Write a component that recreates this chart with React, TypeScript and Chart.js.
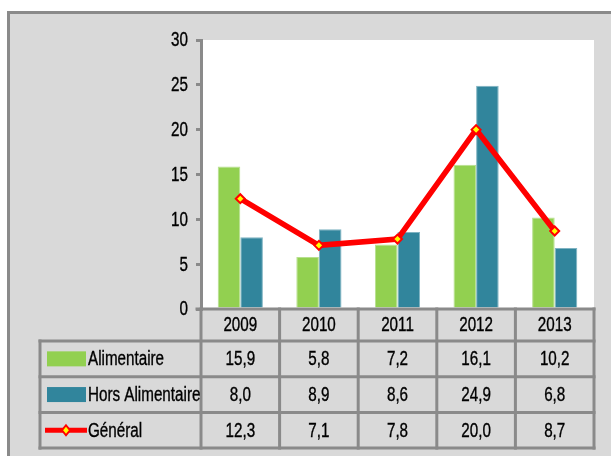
import React, { useEffect, useRef } from "react";
import { Chart, registerables } from "chart.js";

Chart.register(...registerables);

const categories = ["2009", "2010", "2011", "2012", "2013"];
const alimentaire = [15.9, 5.8, 7.2, 16.1, 10.2];
const horsAlimentaire = [8.0, 8.9, 8.6, 24.9, 6.8];
const general = [12.3, 7.1, 7.8, 20.0, 8.7];
const seriesNames = ["Alimentaire", "Hors Alimentaire", "Général"];
const yTicks = { min: 0, max: 30, step: 5 };

const FONT = "'Liberation Sans', Arial, sans-serif";
const FSIZE = 19.5;
const SX = 0.78;
const GREEN = "#92d050";
const BLUE = "#31859c";
const RED = "#ff0000";
const GRID = "#8a8a8a";
const BG = "#d9d9d9";

const fmt = (v: number) => v.toFixed(1).replace(".", ",");

function narrowText(ctx: CanvasRenderingContext2D, text: string, x: number, y: number, align: CanvasTextAlign) {
  ctx.save();
  ctx.translate(x, y);
  ctx.scale(SX, 1);
  ctx.font = `${FSIZE}px ${FONT}`;
  ctx.textAlign = align;
  ctx.textBaseline = "middle";
  ctx.fillStyle = "#000000";
  ctx.fillText(text, 0, 0);
  ctx.strokeStyle = "#000000";
  ctx.lineWidth = 0.35;
  ctx.strokeText(text, 0, 0);
  ctx.restore();
}

const framePlugin = {
  id: "frame",
  beforeDraw(chart: any) {
    const { ctx, chartArea } = chart;
    ctx.save();
    ctx.fillStyle = "#ffffff";
    ctx.fillRect(0, 0, chart.width, chart.height);
    ctx.fillStyle = BG;
    ctx.fillRect(7, 11, chart.width + 20, chart.height + 20);
    ctx.strokeStyle = GRID;
    ctx.lineWidth = 3;
    ctx.strokeRect(8.5, 12.5, chart.width + 20, chart.height + 20);
    ctx.fillStyle = "#ffffff";
    ctx.fillRect(chartArea.left + 2, chartArea.top, chartArea.right - chartArea.left - 2, chartArea.bottom - chartArea.top);
    ctx.restore();
  },
};

const tablePlugin = {
  id: "dataTable",
  afterDraw(chart: any) {
    const { ctx, chartArea } = chart;
    const xScale = chart.scales.x;
    const yScale = chart.scales.y;
    const n = categories.length;
    const catW = (chartArea.right - chartArea.left) / n;
    const top = chartArea.bottom;
    const hdrBottom = top + 32;
    const rowH = 35.7;
    const rows = [hdrBottom, hdrBottom + rowH, hdrBottom + 2 * rowH, hdrBottom + 3 * rowH];
    const legLeft = 40;
    ctx.save();
    yScale.ticks.forEach((t: any) => {
      const y = yScale.getPixelForValue(t.value);
      narrowText(ctx, String(t.value), 188, y + 1, "right");
    });
    ctx.strokeStyle = GRID;
    ctx.lineWidth = 3;
    ctx.lineCap = "square";
    ctx.beginPath();
    ctx.moveTo(chartArea.left - 4, top);
    ctx.lineTo(chartArea.right, top);
    ctx.stroke();
    for (let k = 0; k <= n; k++) {
      const x = chartArea.left + k * catW;
      ctx.beginPath();
      ctx.moveTo(x, top);
      ctx.lineTo(x, rows[3]);
      ctx.stroke();
    }
    ctx.beginPath();
    ctx.moveTo(legLeft, rows[0]);
    ctx.lineTo(legLeft, rows[3]);
    ctx.stroke();
    for (const y of rows) {
      ctx.beginPath();
      ctx.moveTo(legLeft, y);
      ctx.lineTo(chartArea.right, y);
      ctx.stroke();
    }
    categories.forEach((c, i) => {
      const x = xScale.getPixelForValue(i);
      narrowText(ctx, c, x, (top + hdrBottom) / 2 + 1, "center");
    });
    const series = [alimentaire, horsAlimentaire, general];
    series.forEach((s, r) => {
      const yc = (rows[r] + rows[r + 1]) / 2 + 1;
      s.forEach((v, i) => {
        const x = xScale.getPixelForValue(i);
        narrowText(ctx, fmt(v), x, yc, "center");
      });
    });
    seriesNames.forEach((name, r) => {
      const yc = (rows[r] + rows[r + 1]) / 2;
      if (r === 0 || r === 1) {
        ctx.fillStyle = r === 0 ? GREEN : BLUE;
        ctx.fillRect(47, yc - 7.5, 39, 15);
      } else {
        ctx.strokeStyle = RED;
        ctx.lineWidth = 5;
        ctx.lineCap = "butt";
        ctx.beginPath();
        ctx.moveTo(45, yc);
        ctx.lineTo(87, yc);
        ctx.stroke();
        ctx.beginPath();
        ctx.moveTo(66, yc - 5);
        ctx.lineTo(70, yc);
        ctx.lineTo(66, yc + 5);
        ctx.lineTo(62, yc);
        ctx.closePath();
        ctx.fillStyle = "#ffff00";
        ctx.fill();
        ctx.lineWidth = 2;
        ctx.stroke();
      }
      narrowText(ctx, name, 88, yc + 1, "left");
    });
    ctx.restore();
  },
};

export default function App() {
  const ref = useRef<HTMLCanvasElement | null>(null);
  useEffect(() => {
    if (!ref.current) return;
    const chart = new Chart(ref.current, {
      type: "bar",
      data: {
        labels: categories,
        datasets: [
          {
            type: "line",
            label: seriesNames[2],
            data: general,
            borderColor: RED,
            borderWidth: 5.5,
            pointStyle: "rectRot",
            pointRadius: 4.5,
            pointBorderWidth: 2,
            pointBorderColor: RED,
            pointBackgroundColor: "#ffff00",
            order: 0,
            tension: 0,
          } as any,
          {
            label: seriesNames[0],
            data: alimentaire,
            backgroundColor: GREEN,
            borderColor: "#b7e08f",
            borderWidth: 1,
            categoryPercentage: 0.575,
            barPercentage: 1,
            order: 1,
          },
          {
            label: seriesNames[1],
            data: horsAlimentaire,
            backgroundColor: BLUE,
            borderColor: "#7fb3c2",
            borderWidth: 1,
            categoryPercentage: 0.575,
            barPercentage: 1,
            order: 1,
          },
        ],
      },
      options: {
        animation: false,
        responsive: false,
        devicePixelRatio: 1,
        layout: { padding: { left: 0, top: 40, right: 17, bottom: 147 } },
        plugins: { legend: { display: false }, tooltip: { enabled: false } },
        scales: {
          x: { display: false, offset: true },
          y: {
            min: yTicks.min,
            max: yTicks.max,
            afterFit: (scale: any) => {
              scale.width = 201;
            },
            ticks: {
              stepSize: yTicks.step,
              padding: 8,
              color: "rgba(0,0,0,0)",
              font: { family: FONT, size: 16 },
            },
            grid: {
              drawOnChartArea: false,
              drawTicks: true,
              tickLength: 5,
              color: GRID,
              lineWidth: 3,
            },
            border: { display: true, color: GRID, width: 3 },
          },
        },
      },
      plugins: [framePlugin, tablePlugin],
    });
    return () => chart.destroy();
  }, []);
  return (
    <div style={{ position: "fixed", left: 0, top: 0, width: 611, height: 456 }}>
      <canvas ref={ref} width={611} height={456} style={{ width: 611, height: 456, display: "block" }} />
    </div>
  );
}
